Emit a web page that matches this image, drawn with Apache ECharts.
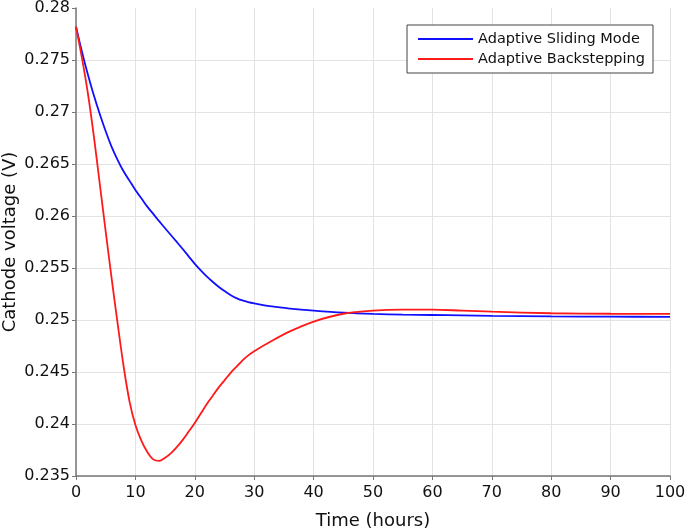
<!DOCTYPE html>
<html><head><meta charset="utf-8">
<script src="https://cdn.jsdelivr.net/npm/echarts@6/dist/echarts.min.js"></script>
<style>html,body{margin:0;padding:0;background:#fff}#c{width:685px;height:530px}</style>
</head><body><div id="c"></div>
<script>
var timeHours = [0,1,2,3,4,5,6,7,8,9,10,11,12,13,14,15,16,17,18,19,20,21,22,23,24,25,26,27,28,29,30,33,36,40,45,50,55,60,65,70,80,90,100];
var slidingMode = [0.2782,0.2758,0.2736,0.2716,0.2698,0.26815,0.26665,0.2654,0.2643,0.2634,0.2625,0.2617,0.2609,0.2602,0.2595,0.25882,0.25815,0.25748,0.2568,0.2561,0.2554,0.25478,0.2542,0.25368,0.2532,0.25278,0.2524,0.2521,0.25188,0.25172,0.2516,0.2513,0.2511,0.2509,0.2507,0.25058,0.25052,0.25048,0.25044,0.2504,0.25035,0.25032,0.2503];
var backstepping = [0.2782,0.2752,0.2718,0.2677,0.2631,0.2585,0.2540,0.2497,0.2456,0.2422,0.2399,0.2384,0.2373,0.2366,0.23645,0.23675,0.2372,0.2378,0.2385,0.2393,0.2401,0.2410,0.2419,0.2427,0.2435,0.2442,0.2449,0.2455,0.2461,0.2466,0.2470,0.2480,0.2489,0.24985,0.2506,0.2509,0.2510,0.2510,0.2509,0.2508,0.25065,0.2506,0.25058];
var seriesNames = ['Adaptive Sliding Mode','Adaptive Backstepping'];
var xTitle = 'Time (hours)';
var yTitle = 'Cathode voltage (V)';

function pairs(vals){ return timeHours.map(function(t,i){ return [t, vals[i]]; }); }
var font = 'DejaVu Sans, Liberation Sans, Arial, sans-serif';
var chart = echarts.init(document.getElementById('c'));
var gridColors = ['#e3e3e3','#e3e3e3','#e3e3e3','#e3e3e3','#e3e3e3','#e3e3e3','#e3e3e3','#e3e3e3','#e3e3e3','rgba(0,0,0,0)'];
chart.setOption({
  animation:false,
  grid:{left:76,right:15,top:8,bottom:54,containLabel:false,outerBoundsMode:'none'},
  legend:{
    orient:'vertical', right:32, top:25,
    data:seriesNames, icon:'rect', itemWidth:55, itemHeight:2, itemGap:4,
    textStyle:{fontFamily:font,fontSize:14.5,lineHeight:16,color:'#111'},
    borderColor:'#444', borderWidth:1, padding:[6,8,6,11], backgroundColor:'#fff'
  },
  xAxis:{
    type:'value', min:0, max:100, interval:10,
    name:xTitle, nameLocation:'middle', nameGap:36, nameMoveOverlap:false,
    nameTextStyle:{fontFamily:font,fontSize:18,color:'#111'},
    axisLine:{lineStyle:{color:'#777',width:1.5}},
    axisTick:{show:true,inside:false,length:4,lineStyle:{color:'#777'}},
    axisLabel:{fontFamily:font,fontSize:16,color:'#111',margin:9},
    splitLine:{show:true,lineStyle:{color:'#e3e3e3',width:1}}
  },
  yAxis:{
    type:'value', min:0.235, max:0.28, interval:0.005,
    name:yTitle, nameLocation:'middle', nameGap:57, nameRotate:90, nameMoveOverlap:false,
    nameTextStyle:{fontFamily:font,fontSize:18,color:'#111'},
    axisLine:{show:true,lineStyle:{color:'#777',width:1.5}},
    axisTick:{show:true,inside:false,length:4,lineStyle:{color:'#777'}},
    axisLabel:{fontFamily:font,fontSize:16,color:'#111',margin:6,
      formatter:function(v){ return String(parseFloat(v.toFixed(3))); }},
    splitLine:{show:true,lineStyle:{color:gridColors,width:1}}
  },
  series:[
    {name:seriesNames[0],type:'line',data:pairs(slidingMode),smooth:0.3,showSymbol:false,
     lineStyle:{color:'#1010ff',width:1.8},itemStyle:{color:'#1010ff'},z:3},
    {name:seriesNames[1],type:'line',data:pairs(backstepping),smooth:0.3,showSymbol:false,
     lineStyle:{color:'#ff1a1a',width:1.8},itemStyle:{color:'#ff1a1a'},z:4}
  ]
});
</script></body></html>
